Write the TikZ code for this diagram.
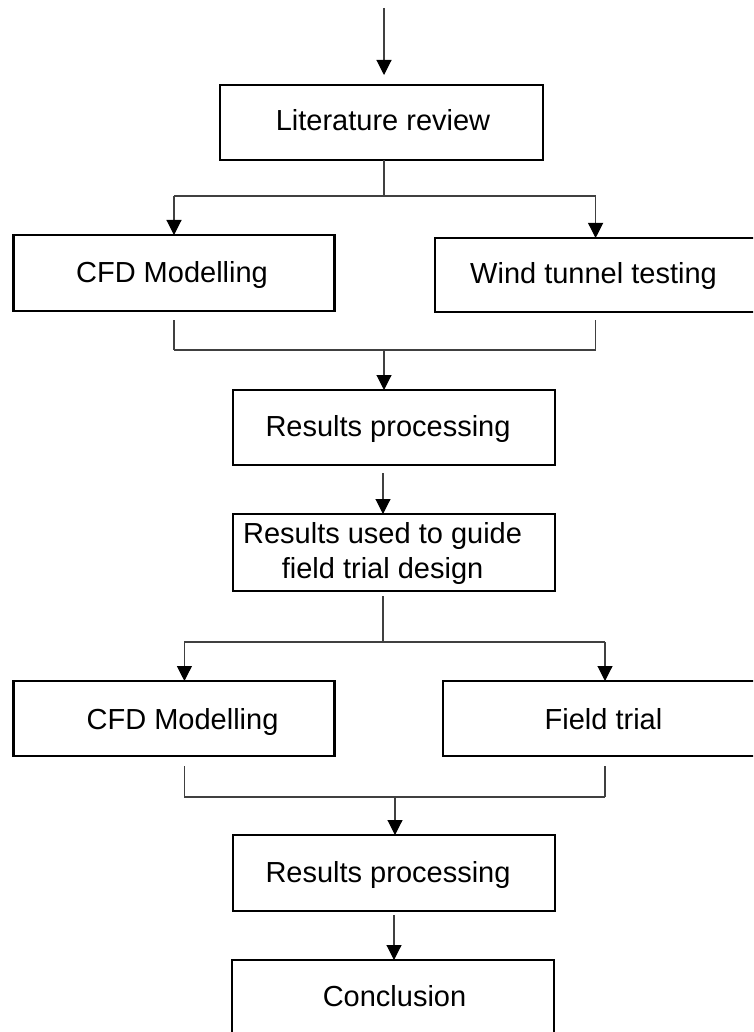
\documentclass[tikz,border=0pt]{standalone}
\usepackage{fontspec}
\setmainfont{Liberation Sans}
\usetikzlibrary{arrows.meta}
\begin{document}
\begin{tikzpicture}[x=1pt,y=-1pt,
  stepbox/.style={draw=black, line width=2.6pt, fill=none, inner sep=0pt, outer sep=0pt},
  label/.style={inner sep=0pt, outer sep=0pt, anchor=base, font=\fontsize{29}{35}\selectfont},
  link/.style={draw=black!75, line width=1.1pt},
  flow/.style={link, -{Triangle[width=15pt,length=15pt,color=black]}}]
\useasboundingbox (0,0) rectangle (753,1032);
\clip (0,0) rectangle (753,1032);

% boxes
\node[stepbox, minimum width=323pt, minimum height=75pt] (lit)   at (381.5,122.5) {};
\node[stepbox, minimum width=321pt, minimum height=76pt] (cfda)  at (174.25,273) {};
\node[stepbox, minimum width=321pt, minimum height=74pt] (wind)  at (595.5,275) {};
\node[stepbox, minimum width=322pt, minimum height=75pt] (resa)  at (394,427.5) {};
\node[stepbox, minimum width=322pt, minimum height=77pt] (guide) at (394,552.5) {};
\node[stepbox, minimum width=321pt, minimum height=75pt] (cfdb)  at (174.25,718.5) {};
\node[stepbox, minimum width=324pt, minimum height=75pt] (field) at (605,718.5) {};
\node[stepbox, minimum width=322pt, minimum height=76pt] (resb)  at (394,873) {};
\node[stepbox, minimum width=322pt, minimum height=74pt] (concl) at (393,997) {};

% texts
\node[label] (litT)   at (383,131)   {Literature review};
\node[label] (cfdaT)  at (172,282)   {CFD Modelling};
\node[label] (windT)  at (593.5,283) {Wind tunnel testing};
\node[label] (resaT)  at (388,436)   {Results processing};
\node[label] (guideT) at (382.6,543) {Results used to guide};
\node[label] (guideU) at (382.6,578) {field trial design};
\node[label] (cfdbT)  at (182.6,729) {CFD Modelling};
\node[label] (fieldT) at (603.5,729) {Field trial};
\node[label] (resbT)  at (388,882)   {Results processing};
\node[label] (conclT) at (394.5,1006) {Conclusion};

% junction points
\coordinate (start) at (384,8);
\coordinate (intop) at (384,75);
\coordinate (j1) at (384,196);
\coordinate (j1l) at (174,196);
\coordinate (j1r) at (595.6,196);
\coordinate (j2) at (384,350);
\coordinate (j2l) at (174,350);
\coordinate (j2r) at (595.6,350);
\coordinate (j3) at (383,642);
\coordinate (j3l) at (184.4,642);
\coordinate (j3r) at (605,642);
\coordinate (j4) at (395,797);
\coordinate (j4l) at (184.4,797);
\coordinate (j4r) at (605,797);

% connectors
\draw[flow] (start) -- (intop);
\draw[link] (lit.south -| j1) -- (j1);
\draw[link] (j1l) -- (j1r);
\draw[flow] (j1l) -- (cfda.north -| j1l);
\draw[flow] (j1r) -- (wind.north -| j1r);

\draw[link, shorten <=9pt] (cfda.south -| j2l) -- (j2l);
\draw[link, shorten <=8pt] (wind.south -| j2r) -- (j2r);
\draw[link] (j2l) -- (j2r);
\draw[flow] (j2) -- (resa.north -| j2);

\draw[flow, shorten <=8pt] (resa.south -| 383,0) -- (guide.north -| 383,0);

\draw[link, shorten <=5pt] (guide.south -| j3) -- (j3);
\draw[link] (j3l) -- (j3r);
\draw[flow] (j3l) -- (cfdb.north -| j3l);
\draw[flow] (j3r) -- (field.north -| j3r);

\draw[link, shorten <=10pt] (cfdb.south -| j4l) -- (j4l);
\draw[link, shorten <=10pt] (field.south -| j4r) -- (j4r);
\draw[link] (j4l) -- (j4r);
\draw[flow] (j4) -- (resb.north -| j4);

\draw[flow, shorten <=4pt] (resb.south -| 394,0) -- (concl.north -| 394,0);
\end{tikzpicture}
\end{document}
